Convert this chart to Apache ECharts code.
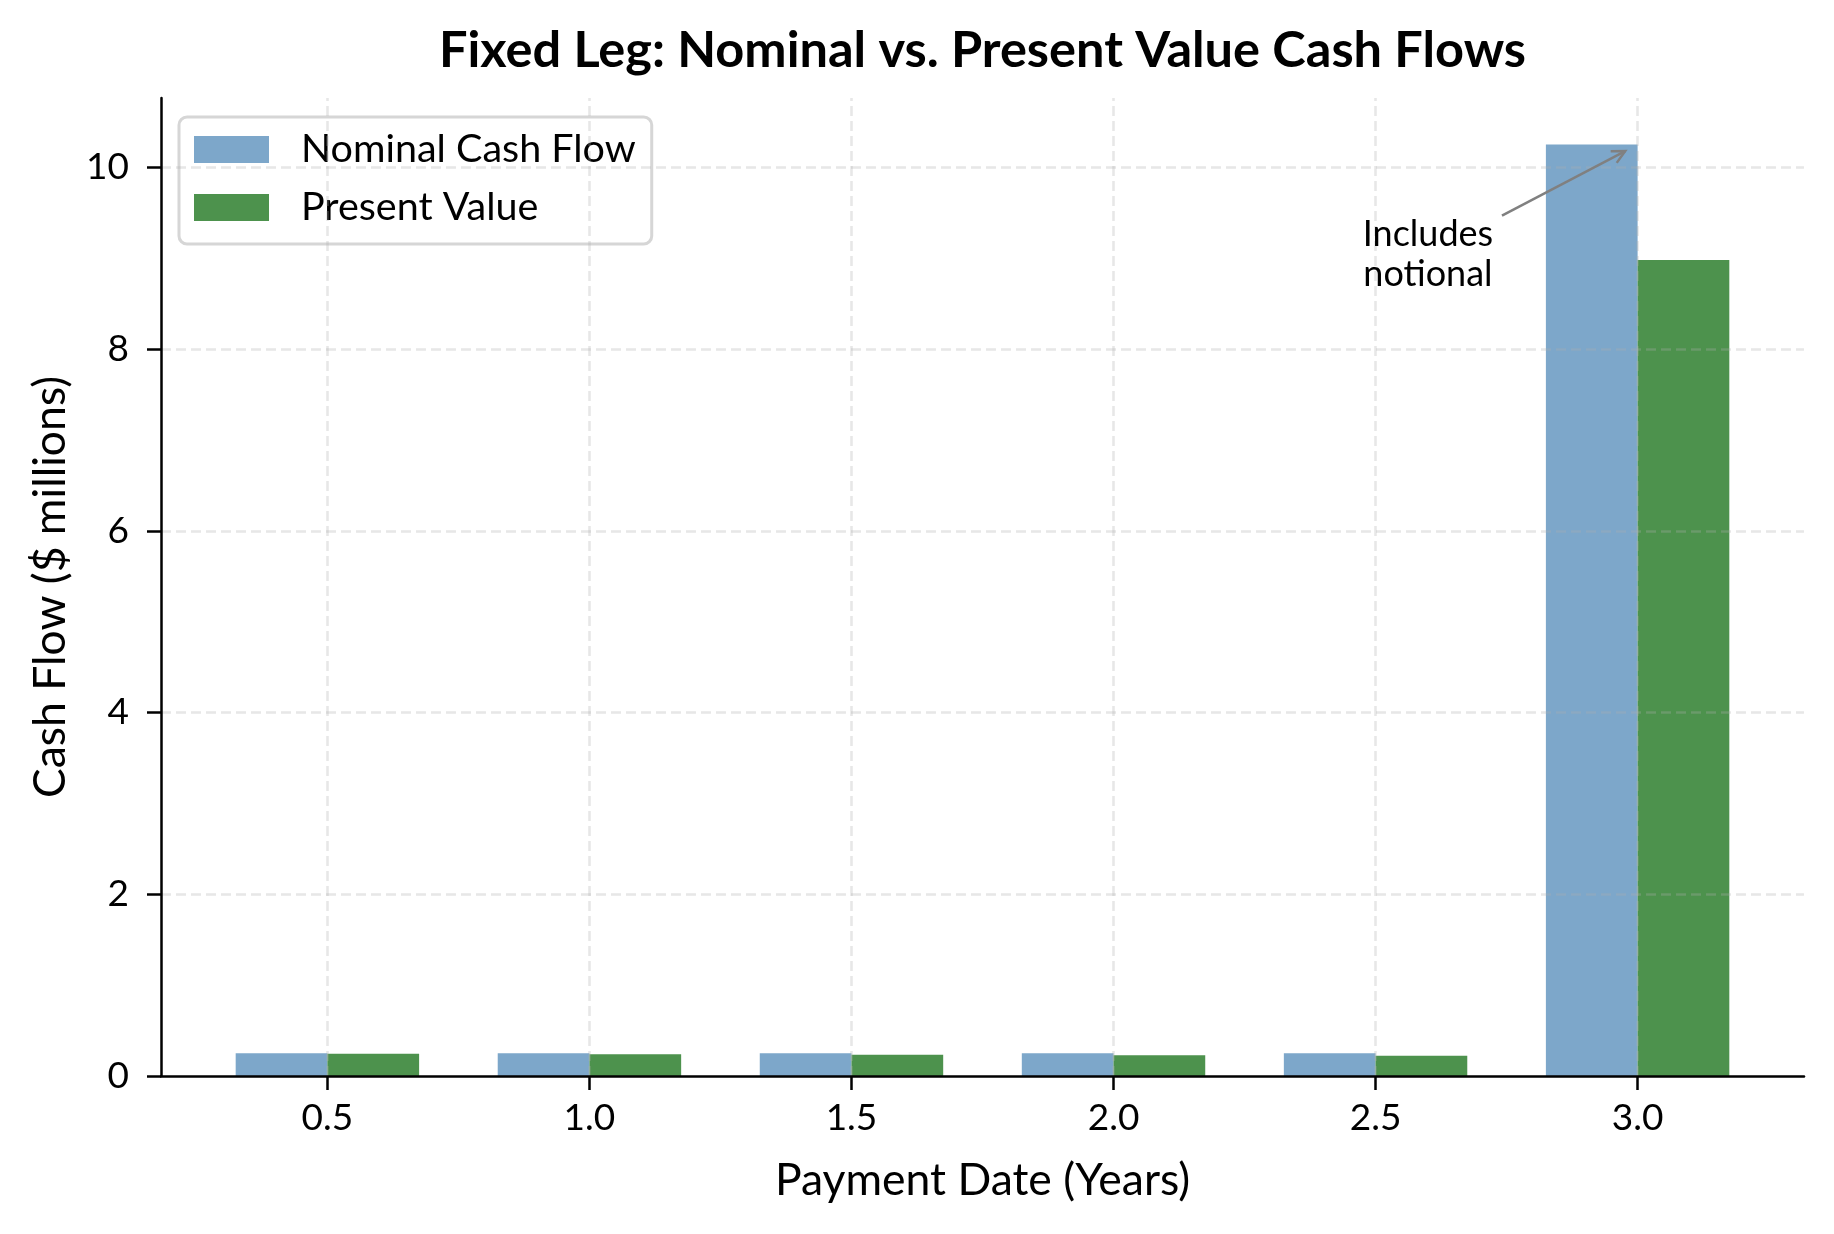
<!DOCTYPE html>
<html><head><meta charset="utf-8">
<script src="https://cdn.jsdelivr.net/npm/echarts@6/dist/echarts.min.js"></script>
<style>html,body{margin:0;padding:0;background:#fff}#c{width:1834px;height:1234px}</style>
</head><body><div id="c"></div>
<script>
// ---- data ----
const paymentDates = [0.5, 1.0, 1.5, 2.0, 2.5, 3.0];
const nominalCashFlow = [0.25, 0.25, 0.25, 0.25, 0.25, 10.25];
const presentValue = [0.245, 0.239, 0.234, 0.229, 0.224, 8.98];
const xTickValues = [0.5, 1.0, 1.5, 2.0, 2.5, 3.0];
const yTickValues = [0, 2, 4, 6, 8, 10];
const seriesNames = ['Nominal Cash Flow', 'Present Value'];
const titleText = 'Fixed Leg: Nominal vs. Present Value Cash Flows';
const xAxisTitle = 'Payment Date (Years)';
const yAxisTitle = 'Cash Flow ($ millions)';
const annotationText = 'Includes\nnotional';
const annotationPoint = [3.0, 10.25];
const annotationTextAt = [2.6, 9.04];

// ---- layout / style ----
const W = 1834, H = 1234;
const GRID = { left: 161, right: 30, top: 98, bottom: 158 };
const BAR_W = 0.175;
const FONT = 'Lato, "Noto Sans", sans-serif';
const BLUE = '#7da7ca', GREEN = '#4d924d';
const GRIDLINE = { type: [10, 5], color: 'rgba(176,176,176,0.3)', width: 2.5 };

const allLeft = Math.min(...paymentDates) - BAR_W;
const allRight = Math.max(...paymentDates) + BAR_W;
const span = allRight - allLeft;
const xMin = allLeft - 0.05 * span;
const xMax = allRight + 0.05 * span;
const yMax = Math.max(...nominalCashFlow, ...presentValue) * 1.05;

function barRenderer(side, color) {
  return function (params, api) {
    const x = api.value(0), v = api.value(1);
    const x0 = side < 0 ? x - BAR_W : x;
    const x1 = side < 0 ? x : x + BAR_W;
    const p0 = api.coord([x0, v]);
    const p1 = api.coord([x1, 0]);
    return {
      type: 'rect',
      shape: { x: p0[0], y: p0[1], width: p1[0] - p0[0], height: p1[1] - p0[1] },
      style: { fill: color }
    };
  };
}

function annotationRenderer(params, api) {
  const P = api.coord([api.value(0), api.value(1)]);
  const T = api.coord(annotationTextAt);
  const dx = P[0] - T[0], dy = P[1] - T[1];
  const len = Math.hypot(dx, dy);
  const ux = dx / len, uy = dy / len;
  const hw = 74, hh = 46;
  const t = Math.min(hw / Math.abs(dx), hh / Math.abs(dy));
  const tail = [T[0] + dx * t, T[1] + dy * t];
  const head = [P[0] - ux * 14, P[1] - uy * 14];
  const hl = 13, hwd = 6.5;
  const bx = head[0] - ux * hl, by = head[1] - uy * hl;
  const nx = -uy, ny = ux;
  return {
    type: 'group',
    children: [
      { type: 'text', style: { text: annotationText, x: T[0], y: T[1], align: 'center', verticalAlign: 'middle',
          fontFamily: FONT, fontSize: 36, lineHeight: 40, fill: '#000' } },
      { type: 'line', shape: { x1: tail[0], y1: tail[1], x2: head[0], y2: head[1] },
        style: { stroke: '#808080', lineWidth: 2.5 } },
      { type: 'polyline', shape: { points: [[bx + nx * hwd, by + ny * hwd], head, [bx - nx * hwd, by - ny * hwd]] },
        style: { stroke: '#808080', lineWidth: 2.5, fill: null } }
    ]
  };
}

const chart = echarts.init(document.getElementById('c'), null, { renderer: 'canvas', width: W, height: H });
const option = {
  backgroundColor: '#ffffff',
  animation: false,
  textStyle: { fontFamily: FONT },
  graphic: [{
    type: 'text',
    x: GRID.left + (W - GRID.left - GRID.right) / 2,
    y: 51,
    style: { text: titleText, align: 'center', verticalAlign: 'middle', fontFamily: FONT,
      fontSize: 50.5, fontWeight: 'bold', fill: '#000' }
  }],
  legend: {
    data: seriesNames,
    orient: 'vertical',
    left: 179, top: 117,
    padding: [12.5, 16, 16.5, 15],
    itemGap: 18,
    itemWidth: 75, itemHeight: 27,
    icon: 'rect',
    backgroundColor: 'rgba(255,255,255,0.8)',
    borderColor: '#d6d6d6', borderWidth: 3, borderRadius: 8,
    textStyle: { fontFamily: FONT, fontSize: 39.5, lineHeight: 40, color: '#000', padding: [0, 0, 0, 27] }
  },
  grid: { left: GRID.left, right: GRID.right, top: GRID.top, bottom: GRID.bottom, containLabel: false },
  xAxis: {
    type: 'value', min: xMin, max: xMax, z: 10,
    name: xAxisTitle, nameLocation: 'middle', nameGap: 82,
    nameTextStyle: { fontFamily: FONT, fontSize: 44.5, color: '#000' },
    axisLine: { show: true, onZero: false, lineStyle: { color: '#000', width: 2.5 } },
    axisTick: { show: true, length: 14, lineStyle: { color: '#000', width: 2.5 }, customValues: xTickValues },
    axisLabel: { customValues: xTickValues, formatter: v => Number(v).toFixed(1), margin: 24,
      fontFamily: FONT, fontSize: 37, color: '#000' },
    splitLine: { show: false }
  },
  yAxis: {
    type: 'value', min: 0, max: yMax, z: 10,
    name: yAxisTitle, nameLocation: 'middle', nameGap: 88, nameRotate: 90,
    nameTextStyle: { fontFamily: FONT, fontSize: 44.5, color: '#000' },
    axisLine: { show: true, lineStyle: { color: '#000', width: 2.5 } },
    axisTick: { show: true, length: 14, lineStyle: { color: '#000', width: 2.5 }, customValues: yTickValues },
    axisLabel: { customValues: yTickValues, formatter: v => String(Math.round(v)), margin: 32,
      fontFamily: FONT, fontSize: 37, color: '#000' },
    splitLine: { show: false }
  },
  series: [
    {
      name: seriesNames[0], type: 'custom', itemStyle: { color: BLUE },
      renderItem: barRenderer(-1, BLUE),
      encode: { x: 0, y: 1 },
      data: paymentDates.map((d, i) => [d, nominalCashFlow[i]]), z: 2
    },
    {
      name: seriesNames[1], type: 'custom', itemStyle: { color: GREEN },
      renderItem: barRenderer(1, GREEN),
      encode: { x: 0, y: 1 },
      data: paymentDates.map((d, i) => [d, presentValue[i]]), z: 2
    },
    {
      name: '_grid', type: 'line', data: [], z: 3, silent: true,
      markLine: {
        silent: true, symbol: ['none', 'none'], label: { show: false },
        lineStyle: GRIDLINE, emphasis: { disabled: true },
        data: [
          ...xTickValues.map(v => ({ xAxis: v })),
          ...yTickValues.filter(v => v > 0).map(v => ({ yAxis: v }))
        ]
      }
    },
    {
      name: '_annotation', type: 'custom', z: 5, silent: true, clip: false,
      renderItem: annotationRenderer,
      encode: { x: 0, y: 1 },
      data: [annotationPoint]
    }
  ]
};
chart.setOption(option);
</script>
</body></html>
